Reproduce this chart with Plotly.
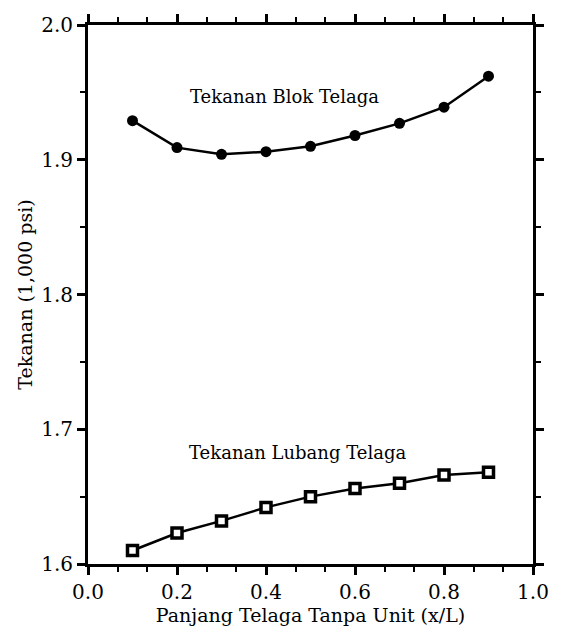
import plotly.graph_objects as go

x_vals = [0.1, 0.2, 0.3, 0.4, 0.5, 0.6, 0.7, 0.8, 0.9]
blok = [1.929, 1.909, 1.904, 1.906, 1.910, 1.918, 1.927, 1.939, 1.962]
lubang = [1.610, 1.623, 1.632, 1.642, 1.650, 1.656, 1.660, 1.666, 1.668]
x_ticks = [0.0, 0.2, 0.4, 0.6, 0.8, 1.0]
x_tick_labels = ["0.0", "0.2", "0.4", "0.6", "0.8", "1.0"]
y_ticks = [1.6, 1.7, 1.8, 1.9, 2.0]
y_tick_labels = ["1.6", "1.7", "1.8", "1.9", "2.0"]

font_family = "DejaVu Serif, Liberation Serif, serif"

fig = go.Figure()
fig.add_trace(go.Scatter(
    x=x_vals, y=blok, mode="lines+markers",
    line=dict(color="black", width=2.5),
    marker=dict(symbol="circle", size=11, color="black"),
    showlegend=False))
fig.add_trace(go.Scatter(
    x=x_vals, y=lubang, mode="lines+markers",
    line=dict(color="black", width=2.5),
    marker=dict(symbol="square", size=10, color="white", line=dict(color="black", width=3.5)),
    showlegend=False))

fig.add_annotation(x=0.441, y=1.947, text="Tekanan Blok Telaga", showarrow=False,
                   font=dict(family=font_family, size=18, color="black"))
fig.add_annotation(x=0.47, y=1.683, text="Tekanan Lubang Telaga", showarrow=False,
                   font=dict(family=font_family, size=18, color="black"))

axis_common = dict(
    showline=True, linecolor="black", linewidth=3, mirror="ticks",
    ticks="outside", ticklen=8, tickwidth=2.5, tickcolor="black",
    showgrid=False, zeroline=False,
    tickfont=dict(family=font_family, size=20, color="black"),
)

fig.update_xaxes(range=[0, 1.0], tickvals=x_ticks, ticktext=x_tick_labels,
                 title=dict(text="Panjang Telaga Tanpa Unit (x/L)", standoff=2,
                            font=dict(family=font_family, size=19, color="black")),
                 minor=dict(ticks="outside", ticklen=5, tickwidth=2, tickcolor="black", dtick=0.0666667),
                 **axis_common)
fig.update_yaxes(range=[1.6, 2.0], tickvals=y_ticks, ticktext=y_tick_labels,
                 title=dict(text="Tekanan (1,000 psi)", standoff=4,
                            font=dict(family=font_family, size=19, color="black")),
                 minor=dict(ticks="outside", ticklen=5, tickwidth=2, tickcolor="black", dtick=0.05),
                 **axis_common)

fig.update_layout(
    width=561, height=639,
    margin=dict(l=88, r=24, t=25, b=75),
    plot_bgcolor="white", paper_bgcolor="white",
)

fig.write_html("out.html")
